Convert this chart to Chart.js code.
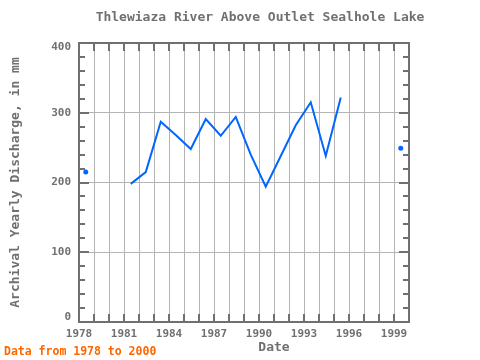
<!DOCTYPE html>
<html>
<head>
<meta charset="utf-8">
<script src="https://cdn.jsdelivr.net/npm/chart.js@4/dist/chart.umd.min.js"></script>
<style>
  html, body { margin: 0; padding: 0; background: #fff; }
  #wrap { width: 480px; height: 360px; }
</style>
</head>
<body>
<div id="wrap"><canvas id="chart" width="480" height="360"></canvas></div>
<script>
// values
const years = [1978, 1979, 1980, 1981, 1982, 1983, 1984, 1985, 1986, 1987, 1988,
               1989, 1990, 1991, 1992, 1993, 1994, 1995, 1996, 1997, 1998, 1999];
const discharge = [215, null, null, 198, 215, 287, 268, 248, 291, 267, 294,
                   240, 194, 238, 282, 315, 238, 322, null, null, null, 249];
const xTickLabels = [1978, 1981, 1984, 1987, 1990, 1993, 1996, 1999];
const yTickLabels = [0, 100, 200, 300, 400];

const GRAY = '#707070';
const GRID = '#b4b4b4';
const FONT = '"DejaVu Sans Mono", monospace';

const points = years.map((yr, i) => ({ x: yr + 0.45, y: discharge[i] }));

// frame, inner ticks, y labels and the texts around the plot
const decor = {
  id: 'decor',
  afterDraw(chart) {
    const { ctx, chartArea: a, scales } = chart;
    const xs = scales.x, ys = scales.y;
    ctx.save();
    ctx.strokeStyle = GRAY;
    ctx.lineWidth = 2;
    ctx.beginPath();
    for (let yr = 1978; yr <= 2000; yr++) {
      const px = Math.round(xs.getPixelForValue(yr));
      ctx.moveTo(px, a.top); ctx.lineTo(px, a.top + 8);
      ctx.moveTo(px, a.bottom); ctx.lineTo(px, a.bottom - 8);
    }
    for (let v = 0; v <= 400; v += 20) {
      const py = Math.round(ys.getPixelForValue(v));
      const len = v % 100 === 0 ? 10 : 6;
      ctx.moveTo(a.left, py); ctx.lineTo(a.left + len, py);
      ctx.moveTo(a.right, py); ctx.lineTo(a.right - len, py);
    }
    ctx.stroke();
    ctx.strokeRect(a.left, a.top, a.right - a.left, a.bottom - a.top);

    ctx.fillStyle = GRAY;
    ctx.textBaseline = 'middle';
    ctx.textAlign = 'right';
    ctx.font = 'bold 11px ' + FONT;
    yTickLabels.forEach((v) => {
      let py = ys.getPixelForValue(v);
      py = Math.min(Math.max(py, a.top + 4), a.bottom - 5);
      ctx.fillText(String(v), a.left - 8, py);
    });

    ctx.textAlign = 'center';
    ctx.font = 'bold 13px ' + FONT;
    ctx.fillText('Thlewiaza River Above Outlet Sealhole Lake', 260, 18);
    ctx.fillText('Date', 274, 348);
    ctx.save();
    ctx.translate(16, (a.top + a.bottom) / 2);
    ctx.rotate(-Math.PI / 2);
    ctx.fillText('Archival Yearly Discharge, in mm', 0, 0);
    ctx.restore();

    ctx.fillStyle = '#ff6600';
    ctx.textAlign = 'left';
    ctx.font = 'bold 11.5px ' + FONT;
    ctx.fillText('Data from 1978 to 2000', 4, 352);
    ctx.restore();
  }
};

function isolated(ctx) {
  const i = ctx.dataIndex;
  const prev = i > 0 ? discharge[i - 1] : null;
  const next = i < discharge.length - 1 ? discharge[i + 1] : null;
  return discharge[i] != null && prev == null && next == null;
}

new Chart(document.getElementById('chart'), {
  type: 'line',
  data: {
    datasets: [{
      data: points,
      borderColor: '#0066ff',
      backgroundColor: '#0066ff',
      borderWidth: 2,
      spanGaps: false,
      tension: 0,
      pointRadius: (c) => (isolated(c) ? 2.5 : 0),
      pointBorderWidth: 0,
    }],
  },
  options: {
    responsive: false,
    animation: false,
    devicePixelRatio: 1,
    layout: { padding: { left: 0, top: 43, right: 71, bottom: 0 } },
    plugins: { legend: { display: false }, title: { display: false }, tooltip: { enabled: false } },
    scales: {
      x: {
        type: 'linear',
        min: 1978,
        max: 2000,
        afterFit: (s) => { s.height = 38; },
        afterBuildTicks: (s) => { s.ticks = years.concat([2000]).map((v) => ({ value: v })); },
        border: { display: false },
        grid: { color: GRID, lineWidth: 1, drawTicks: false },
        ticks: {
          autoSkip: false,
          maxRotation: 0,
          padding: 6,
          color: GRAY,
          font: { family: FONT, size: 11, weight: 'bold' },
          callback: (v) => (xTickLabels.includes(v) ? String(v) : ''),
        },
      },
      y: {
        min: 0,
        max: 400,
        afterFit: (s) => { s.width = 79; },
        afterBuildTicks: (s) => { s.ticks = yTickLabels.map((v) => ({ value: v })); },
        border: { display: false },
        grid: { color: GRID, lineWidth: 1, drawTicks: false },
        ticks: { display: false },
      },
    },
  },
  plugins: [decor],
});
</script>
</body>
</html>
